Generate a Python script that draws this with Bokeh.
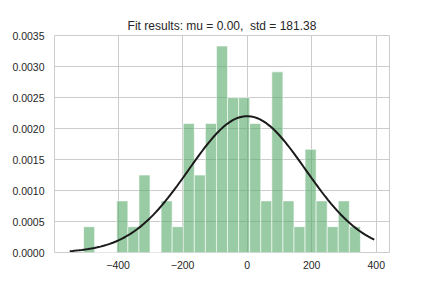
import numpy as np
from bokeh.plotting import figure
from bokeh.models import Range1d, FixedTicker, PrintfTickFormatter
from bokeh.embed import file_html
from bokeh.resources import INLINE

# ---- data ----
mu = 0.00
std = 181.38
n_samples = 70
bin_start = -507.0
bin_width = 34.32
bin_counts = [1, 0, 0, 2, 1, 3, 0, 2, 1, 5, 3, 5, 8, 6, 6, 5, 2, 7, 2, 1, 4, 2, 1, 2, 1]
x_ticks = [-400, -200, 0, 200, 400]
x_tick_labels = ["\u2212400", "\u2212200", "0", "200", "400"]
y_ticks = [0.0, 0.0005, 0.0010, 0.0015, 0.0020, 0.0025, 0.0030, 0.0035]
title_text = "Fit results: mu = 0.00,\u00a0 std = 181.38"

# histogram geometry (density)
n_bins = len(bin_counts)
lefts = [bin_start + i * bin_width for i in range(n_bins)]
rights = [l + bin_width for l in lefts]
density = [c / (n_samples * bin_width) for c in bin_counts]

hist_min, hist_max = lefts[0], rights[-1]
span = hist_max - hist_min
cx0, cx1 = hist_min - 0.05 * span, hist_max + 0.05 * span
curve_x = np.linspace(cx0, cx1, 100)
curve_y = np.exp(-0.5 * ((curve_x - mu) / std) ** 2) / (std * np.sqrt(2 * np.pi))
cspan = cx1 - cx0

FONT = "Liberation Sans"
TXT = "#262626"

p = figure(width=424, height=280, output_backend="svg", toolbar_location=None,
           x_range=Range1d(cx0 - 0.05 * cspan, cx1 + 0.05 * cspan),
           y_range=Range1d(0, 0.0035),
           min_border_left=54, min_border_right=35, min_border_top=35, min_border_bottom=28)

p.title.text = title_text
p.title.align = "center"
p.title.text_font = FONT
p.title.text_font_size = "12px"
p.title.text_font_style = "normal"
p.title.text_color = TXT
p.title.standoff = 5

p.background_fill_color = "white"
p.border_fill_color = "white"
p.outline_line_color = "#cccccc"
p.outline_line_width = 1

p.quad(left=lefts, right=rights, top=density, bottom=0,
       fill_color="#55a868", fill_alpha=0.6,
       line_color="white", line_alpha=0.6, line_width=1)

p.line(curve_x, curve_y, line_color="#1a1a1a", line_width=2)

for ax in (p.xaxis[0], p.yaxis[0]):
    ax.axis_line_color = None
    ax.major_tick_line_color = None
    ax.minor_tick_line_color = None
    ax.major_tick_out = 0
    ax.major_tick_in = 0
    ax.minor_tick_out = 0
    ax.minor_tick_in = 0
    ax.major_label_text_font = FONT
    ax.major_label_text_font_size = "10.5px"
    ax.major_label_text_color = TXT

p.yaxis.major_label_standoff = 10
p.xaxis.major_label_standoff = 8

p.xaxis.ticker = FixedTicker(ticks=x_ticks)
p.xaxis.major_label_overrides = {t: s for t, s in zip(x_ticks, x_tick_labels)}
p.yaxis.ticker = FixedTicker(ticks=y_ticks)
p.yaxis.formatter = PrintfTickFormatter(format="%.4f")

p.xgrid.ticker = FixedTicker(ticks=x_ticks)
p.ygrid.ticker = FixedTicker(ticks=y_ticks)
p.grid.grid_line_color = "#cccccc"
p.grid.grid_line_width = 1

open("out.html", "w").write(file_html(p, INLINE))
